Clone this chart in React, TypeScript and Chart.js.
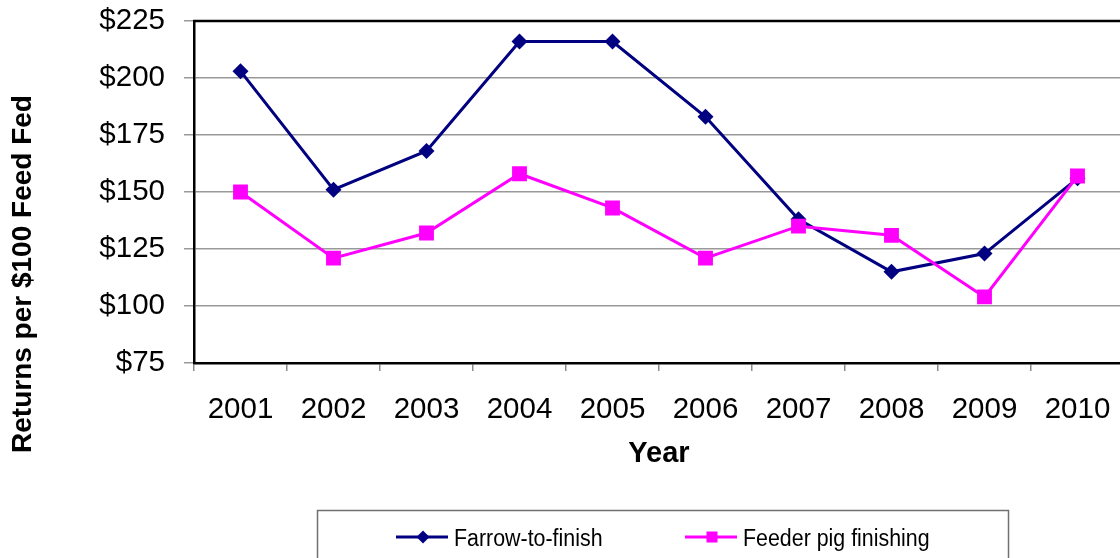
import React, { useEffect, useRef } from "react";
import { Chart, registerables } from "chart.js";

Chart.register(...registerables);

const years = ["2001", "2002", "2003", "2004", "2005", "2006", "2007", "2008", "2009", "2010"];
const farrowToFinish = [203, 151, 168, 216, 216, 183, 138, 115, 123, 156];
const feederPigFinishing = [150, 121, 132, 158, 143, 121, 135, 131, 104, 157];
const seriesLabels = ["Farrow-to-finish", "Feeder pig finishing"];
const xTitle = "Year";
const yTitle = "Returns per $100 Feed Fed";
const yMin = 75;
const yMax = 225;
const yStep = 25;

const FONT = "'Liberation Sans', Arial, sans-serif";
const NAVY = "#000080";
const MAGENTA = "#FF00FF";

const decorPlugin = {
  id: "decor",
  afterDraw(chart: any) {
    const { ctx, chartArea } = chart;
    ctx.save();
    // top border of plot area
    ctx.strokeStyle = "#000";
    ctx.lineWidth = 2.5;
    ctx.beginPath();
    ctx.moveTo(chartArea.left - 1, chartArea.top);
    ctx.lineTo(chartArea.right, chartArea.top);
    ctx.stroke();

    // axis titles
    ctx.fillStyle = "#000";
    ctx.font = `bold 29px ${FONT}`;
    ctx.textAlign = "center";
    ctx.textBaseline = "middle";
    ctx.fillText(xTitle, (chartArea.left + chartArea.right) / 2, 454);

    ctx.save();
    ctx.translate(23, 274);
    ctx.rotate(-Math.PI / 2);
    ctx.font = `bold 28px ${FONT}`;
    ctx.fillText(yTitle, 0, 0);
    ctx.restore();

    // legend box
    ctx.strokeStyle = "#707070";
    ctx.lineWidth = 1.5;
    ctx.strokeRect(317.5, 510.5, 691, 80);

    const ly = 537;
    // farrow item
    ctx.strokeStyle = NAVY;
    ctx.lineWidth = 3;
    ctx.beginPath();
    ctx.moveTo(396, ly);
    ctx.lineTo(448, ly);
    ctx.stroke();
    ctx.fillStyle = NAVY;
    ctx.beginPath();
    ctx.moveTo(423 - 6.5, ly);
    ctx.lineTo(423, ly - 6.5);
    ctx.lineTo(423 + 6.5, ly);
    ctx.lineTo(423, ly + 6.5);
    ctx.closePath();
    ctx.fill();

    // feeder item
    ctx.strokeStyle = MAGENTA;
    ctx.beginPath();
    ctx.moveTo(685, ly);
    ctx.lineTo(737, ly);
    ctx.stroke();
    ctx.fillStyle = MAGENTA;
    ctx.fillRect(712 - 5.5, ly - 5.5, 11, 11);

    ctx.fillStyle = "#000";
    ctx.font = `23.5px ${FONT}`;
    ctx.textAlign = "left";
    ctx.textBaseline = "alphabetic";
    ctx.save();
    ctx.translate(454, 546);
    ctx.scale(0.91, 1);
    ctx.fillText(seriesLabels[0], 0, 0);
    ctx.restore();
    ctx.save();
    ctx.translate(743, 546);
    ctx.scale(0.91, 1);
    ctx.fillText(seriesLabels[1], 0, 0);
    ctx.restore();
    ctx.restore();
  },
};

export default function App() {
  const canvasRef = useRef<HTMLCanvasElement | null>(null);

  useEffect(() => {
    document.body.style.overflow = "hidden";
    const canvas = canvasRef.current;
    if (!canvas) return;
    const chart = new Chart(canvas, {
      type: "line",
      data: {
        labels: years,
        datasets: [
          {
            label: seriesLabels[0],
            data: farrowToFinish,
            borderColor: NAVY,
            backgroundColor: NAVY,
            borderWidth: 3,
            pointStyle: "rectRot",
            pointRadius: 8,
            pointBorderWidth: 0,
            pointBackgroundColor: NAVY,
            tension: 0,
            order: 2,
          },
          {
            label: seriesLabels[1],
            data: feederPigFinishing,
            borderColor: MAGENTA,
            backgroundColor: MAGENTA,
            borderWidth: 3,
            pointStyle: "rect",
            pointRadius: 10.5,
            pointBorderWidth: 0,
            pointBackgroundColor: MAGENTA,
            tension: 0,
            order: 1,
          },
        ],
      },
      options: {
        animation: false,
        responsive: false,
        layout: { padding: { left: 0, top: 21, right: 26, bottom: 0 } },
        plugins: {
          legend: { display: false },
          tooltip: { enabled: false },
          title: { display: false },
        },
        scales: {
          x: {
            type: "category",
            offset: true,
            grid: {
              offset: true,
              drawOnChartArea: false,
              drawTicks: true,
              tickLength: 8,
              color: "#8c8c8c",
              lineWidth: 1.5,
            },
            border: { color: "#000", width: 2.5 },
            ticks: {
              color: "#000",
              font: { family: FONT, size: 29.5 },
              padding: 21,
              autoSkip: false,
              maxRotation: 0,
            },
            afterFit: (scale: any) => {
              scale.height = 195;
              scale.paddingLeft = 0;
              scale.paddingRight = 0;
              scale.paddingTop = 0;
              scale.paddingBottom = 0;
            },
          },
          y: {
            min: yMin,
            max: yMax,
            grid: {
              color: "#999999",
              lineWidth: 1.5,
              tickLength: 10,
            },
            border: { color: "#000", width: 2.5 },
            ticks: {
              stepSize: yStep,
              color: "#000",
              font: { family: FONT, size: 29.5 },
              padding: 19,
              callback: (v: any) => "$" + v,
            },
            afterFit: (scale: any) => {
              scale.width = 194;
              scale.paddingLeft = 0;
              scale.paddingRight = 0;
              scale.paddingTop = 0;
              scale.paddingBottom = 0;
            },
          },
        },
      },
      plugins: [decorPlugin],
    });
    return () => chart.destroy();
  }, []);

  return (
    <div
      style={{
        position: "fixed",
        left: 0,
        top: 0,
        width: 1120,
        height: 558,
        overflow: "hidden",
        background: "#fff",
      }}
    >
      <canvas ref={canvasRef} width={1150} height={558} style={{ width: 1150, height: 558, display: "block" }} />
    </div>
  );
}
